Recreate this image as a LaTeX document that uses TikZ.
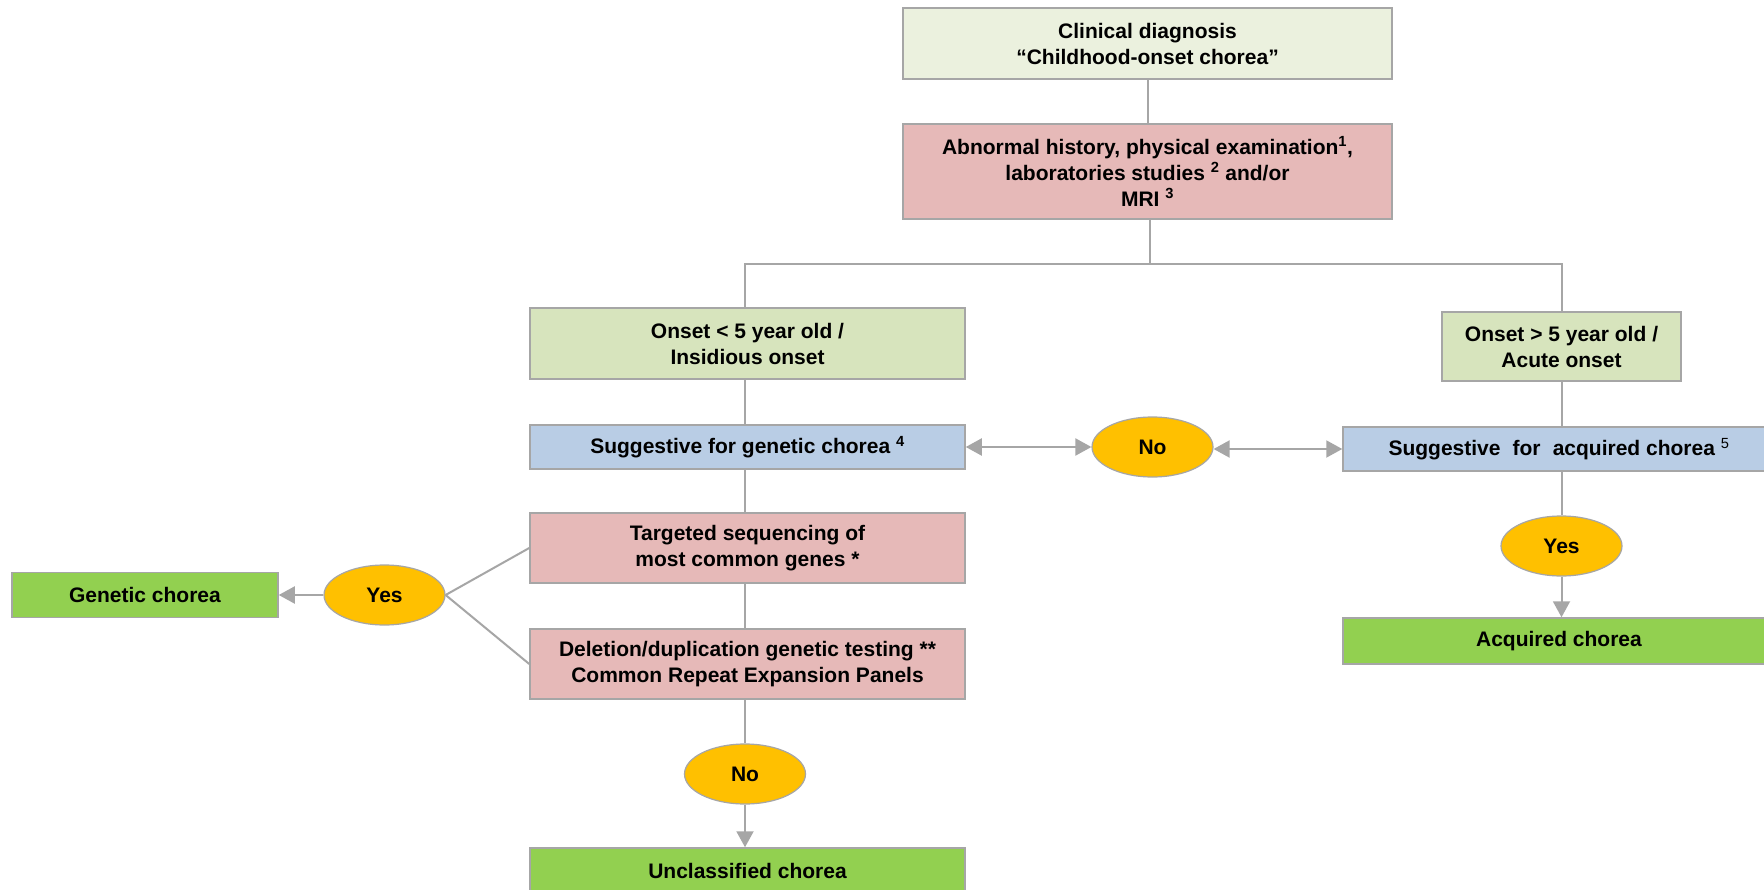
\documentclass[tikz,border=0pt]{standalone}
\usepackage{fontspec}
\setmainfont{Liberation Sans}
\usetikzlibrary{shapes.geometric,arrows.meta}
\definecolor{gry}{HTML}{A6A6A6}
\definecolor{cream}{HTML}{EBF1DE}
\definecolor{pinkb}{HTML}{E6B9B8}
\definecolor{olive}{HTML}{D7E4BD}
\definecolor{blueb}{HTML}{B9CDE5}
\definecolor{greenb}{HTML}{92D050}
\definecolor{yel}{HTML}{FFC000}
\begin{document}
\begin{tikzpicture}[x=1pt,y=-1pt,
  every node/.style={font=\fontsize{21}{26}\selectfont\bfseries, text=black, align=center, inner sep=0pt},
  box/.style={rectangle, draw=gry, line width=1.5pt},
  oval/.style={ellipse, draw=gry, line width=1.2pt, fill=yel, minimum width=121pt, minimum height=60pt},
  conn/.style={draw=gry, line width=2pt},
  arr/.style={conn, -{Triangle[length=16pt,width=17pt]}},
  dbl/.style={conn, {Triangle[length=16pt,width=17pt]}-{Triangle[length=16pt,width=17pt]}}
]
\useasboundingbox (0,0) rectangle (1764,890);
\fill[white] (0,0) rectangle (1764,890);

\node[box, fill=cream, minimum width=489pt, minimum height=71pt] (top) at (1147.5,43.5) {Clinical diagnosis\\“Childhood-onset chorea”};
\node[box, fill=pinkb, minimum width=489pt, minimum height=95pt] (abn) at (1147.5,171.5) {Abnormal history, physical examination\textsuperscript{1},\\laboratories studies \textsuperscript{2} and/or\\MRI \textsuperscript{3}};
\node[box, fill=olive, minimum width=435pt, minimum height=71pt] (lon) at (747.5,343.5) {Onset < 5 year old /\\Insidious onset};
\node[box, fill=olive, minimum width=239pt, minimum height=69pt] (ron) at (1561.5,346.5) {Onset > 5 year old /\\Acute onset};
\node[box, fill=blueb, minimum width=435pt, minimum height=44pt] (lblue) at (747.5,447) {Suggestive for genetic chorea \textsuperscript{4}};
\node[box, fill=blueb, minimum width=432pt, minimum height=44pt] (rblue) at (1559,449) {Suggestive\hspace{0.3em} for\hspace{0.3em} acquired chorea \textsuperscript{\mdseries 5}};
\node[oval] (noM) at (1152.5,447) {No};
\node[box, fill=pinkb, minimum width=435pt, minimum height=70pt] (tgt) at (747.5,548) {Targeted sequencing of\\most common genes *};
\node[box, fill=pinkb, minimum width=435pt, minimum height=70pt] (del) at (747.5,664) {Deletion/duplication genetic testing **\\Common Repeat Expansion Panels};
\node[oval] (noB) at (745,774) {No};
\node[box, fill=greenb, minimum width=435pt, minimum height=46pt] (unc) at (747.5,871) {Unclassified chorea};
\node[oval] (yesL) at (384.5,595) {Yes};
\node[box, fill=greenb, minimum width=266pt, minimum height=45pt] (gen) at (145,595) {Genetic chorea};
\node[oval] (yesR) at (1561.5,546) {Yes};
\node[box, fill=greenb, minimum width=432pt, minimum height=46pt] (acq) at (1559,641) {Acquired chorea};

\coordinate (j) at (1150,264);
\coordinate (cx) at (745,0);
\draw[conn] (top.south) -- (abn.north);
\draw[conn] (abn.south -| j) -- (j);
\draw[conn] (lon.north -| cx) |- (j) -| (ron.north);
\draw[conn] (lon.south -| cx) -- (lblue.north -| cx);
\draw[conn] (lblue.south -| cx) -- (tgt.north -| cx);
\draw[conn] (tgt.south -| cx) -- (del.north -| cx);
\draw[conn] (del.south -| cx) -- (noB.north);
\draw[arr] (noB.south) -- (noB.south |- unc.north);
\draw[conn] (yesL.east) -- (tgt.west);
\draw[conn] (yesL.east) -- (del.west);
\draw[arr] (yesL.west) -- (gen.east);
\draw[dbl] (lblue.east) -- (noM.west);
\draw[dbl] (noM.east |- rblue.west) -- (rblue.west);
\draw[conn] (ron.south) -- (ron.south |- rblue.north);
\draw[conn] (yesR.north |- rblue.south) -- (yesR.north);
\draw[arr] (yesR.south) -- (yesR.south |- acq.north);
\end{tikzpicture}
\end{document}
